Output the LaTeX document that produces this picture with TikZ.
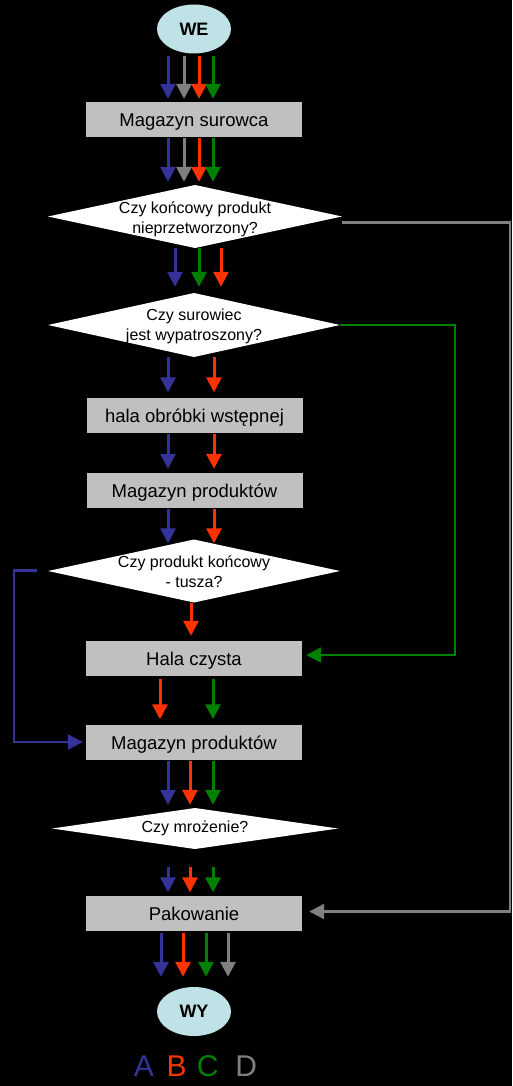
\documentclass[tikz,border=0pt]{standalone}
\usepackage{fontspec}
\setmainfont{Liberation Sans}
\usetikzlibrary{arrows.meta,shapes.geometric}
\definecolor{cA}{HTML}{333399}
\definecolor{cB}{HTML}{FF3300}
\definecolor{cC}{HTML}{008000}
\definecolor{cD}{HTML}{808080}
\definecolor{boxgray}{HTML}{C0C0C0}
\definecolor{termcol}{RGB}{190,226,230}
\begin{document}
\begin{tikzpicture}[x=1pt,y=-1pt,
  box/.style={fill=boxgray, minimum width=216pt, minimum height=35pt, inner sep=0pt, text height=14.5pt, text depth=0.5pt, font=\fontsize{18.5}{22}\selectfont},
  term/.style={ellipse, fill=termcol, minimum width=74pt, minimum height=49pt, inner sep=0pt, font=\bfseries\fontsize{18}{22}\selectfont},
  decision/.style 2 args={fill=black, minimum width=#1, minimum height=#2, inner sep=0pt, align=center, font=\fontsize{16}{20}\selectfont,
    path picture={\fill[white] (path picture bounding box.west) -- (path picture bounding box.north) -- (path picture bounding box.east) -- (path picture bounding box.south) -- cycle;}},
  flow/.style={line width=3pt, -{Triangle[width=15pt,length=15pt]}},
  link/.style={line width=2.4pt, -{Triangle[width=15pt,length=15pt]}},
  legend/.style={font=\fontsize{30}{36}\selectfont, inner sep=0pt}
]
\fill[black] (0,0) rectangle (512,1086);

\node[term] (we) at (194,29) {WE};
\node[box] (box1) at (194,119.5) {Magazyn surowca};
\node[decision={294pt}{63pt}] (d1) at (195,216.5) {\rule{0pt}{17pt}Czy końcowy produkt\\nieprzetworzony?};
\node[decision={292pt}{64pt}] (d2) at (194,325) {\rule{0pt}{15pt}Czy surowiec\\jest wypatroszony?};
\node[box] (box2) at (194.5,415) {hala obróbki wstępnej};
\node[box] (box3) at (194.5,490.5) {Magazyn produktów};
\node[decision={292pt}{63pt}] (d3) at (194,571) {\rule{0pt}{14pt}Czy produkt końcowy\\- tusza?};
\node[box] (box4) at (194,658.5) {Hala czysta};
\node[box] (box5) at (194,742) {Magazyn produktów};
\node[decision={286pt}{41pt}] (d4) at (195,828.5) {Czy mrożenie?};
\node[box] (box6) at (194,913) {Pakowanie};
\node[term] (wy) at (194,1011.5) {WY};

\node[legend, text=cA] (lA) at (143.8,1066) {A};
\node[legend, text=cB] (lB) at (176.7,1066) {B};
\node[legend, text=cC] (lC) at (207.8,1066) {C};
\node[legend, text=cD] (lD) at (246.3,1066) {D};

% vertical flows
\foreach \x/\c in {168/cA,184/cD,199/cB,213/cC}
  \draw[flow,\c,shorten <=2pt,shorten >=3pt] (\x,0 |- we.south) -- (\x,0 |- box1.north);
\foreach \x/\c in {168/cA,184/cD,199/cB,213/cC}
  \draw[flow,\c,shorten <=1pt,shorten >=3pt] (\x,0 |- box1.south) -- (\x,0 |- d1.north);
\foreach \x/\c in {175/cA,199/cC,221/cB}
  \draw[flow,\c,shorten >=6pt] (\x,0 |- d1.south) -- (\x,0 |- d2.north);
\foreach \x/\c in {168/cA,214/cB}
  \draw[flow,\c,shorten >=5pt] (\x,0 |- d2.south) -- (\x,0 |- box2.north);
\foreach \x/\c in {168/cA,214/cB}
  \draw[flow,\c,shorten <=1pt,shorten >=4pt] (\x,0 |- box2.south) -- (\x,0 |- box3.north);
\foreach \x/\c in {168/cA,214/cB}
  \draw[flow,\c,shorten <=1pt,shorten >=-4pt] (\x,0 |- box3.south) -- (\x,0 |- d3.north);
\foreach \x/\c in {191/cB}
  \draw[flow,\c,shorten >=5pt] (\x,0 |- d3.south) -- (\x,0 |- box4.north);
\foreach \x/\c in {160/cB,213/cC}
  \draw[flow,\c,shorten <=3pt,shorten >=5pt] (\x,0 |- box4.south) -- (\x,0 |- box5.north);
\foreach \x/\c in {168/cA,190/cB,213/cC}
  \draw[flow,\c,shorten <=1pt,shorten >=3pt] (\x,0 |- box5.south) -- (\x,0 |- d4.north);
\foreach \x/\c in {168/cA,190/cB,213/cC}
  \draw[flow,\c,shorten <=18pt,shorten >=3pt] (\x,0 |- d4.south) -- (\x,0 |- box6.north);
\foreach \x/\c in {161/cA,183/cB,206/cC,228/cD}
  \draw[flow,\c,shorten <=2pt,shorten >=10pt] (\x,0 |- box6.south) -- (\x,0 |- wy.north);

% side links
\coordinate (gc) at (510,911.5);
\draw[link,cD,shorten >=7pt] ([yshift=-6pt]d1.east) -| (gc) -- (gc -| box6.east);
\coordinate (gn) at (455,655);
\draw[link,cC,shorten >=4pt] (d2.east) -| (gn) -- (gn -| box4.east);
\coordinate (bs) at (37,570.5);
\coordinate (bc) at (14,570.5);
\draw[link,cA,shorten >=3pt] (bs) -- (bc) |- (box5.west);
\end{tikzpicture}
\end{document}
